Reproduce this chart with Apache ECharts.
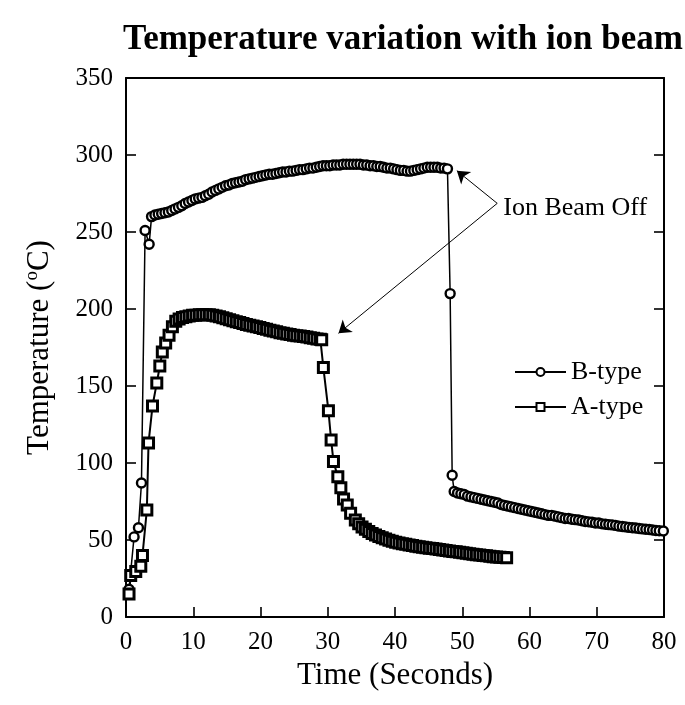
<!DOCTYPE html>
<html>
<head>
<meta charset="utf-8">
<script src="https://cdn.jsdelivr.net/npm/echarts@6/dist/echarts.min.js"></script>
<style>
html,body{margin:0;padding:0;background:#fff;}
#chart{width:685px;height:705px;}
</style>
</head>
<body>
<div id="chart"></div>
<script>
// ---- Data (time in seconds, temperature in °C) ----
const bTypePoints = [
  [0.45,18],[1.2,52],[1.85,58],[2.3,87],[2.84,251],[3.44,242],[3.8,260],
  [4.3,261],[4.8,261.5],[5.3,262],[5.8,262.5],[6.3,263],[6.8,264],[7.3,265],[7.8,266],
  [8.3,267],[8.8,268.5],[9.3,269.5],[9.8,270.5],[10.3,271.5],[10.8,272],[11.3,272.5],[11.8,273.5],
  [12.3,274.5],[12.8,276],[13.3,277],[13.8,278],[14.3,279],[14.8,280],[15.3,280.5],[15.8,281.5],
  [16.3,282],[16.8,282.5],[17.3,283],[17.8,284],[18.3,284.5],[18.8,285],[19.3,285.5],[19.8,286],
  [20.3,286.5],[20.8,287],[21.3,287.5],[21.8,287.5],[22.3,288],[22.8,288.5],[23.3,289],[23.8,289],
  [24.3,289.5],[24.8,289.5],[25.3,290],[25.8,290.5],[26.3,290.5],[26.8,291],[27.3,291.5],[27.8,291.5],
  [28.3,292],[28.8,292.5],[29.3,293],[29.8,293],[30.3,293],[30.8,293.5],[31.3,293.5],[31.8,293.5],
  [32.3,294],[32.8,294],[33.3,294],[33.8,294],[34.3,294],[34.8,294],[35.3,293.5],[35.8,293.5],
  [36.3,293],[36.8,293],[37.3,292.5],[37.8,292.5],[38.3,292],[38.8,291.5],[39.3,291.5],[39.8,291],
  [40.3,290.5],[40.8,290],[41.3,290],[41.8,289.5],[42.3,289.5],[42.8,290],[43.3,290.5],[43.8,291],
  [44.3,291.5],[44.8,292],[45.3,292],[45.8,292],[46.3,292],[46.8,291.5],[47.3,291.5],[47.8,291],
  [48.2,210],[48.5,92],[48.8,81.5],
  [49.3,80.5],[49.8,80],[50.3,79.5],[50.8,78.5],[51.3,78],[51.8,77.5],[52.3,77],[52.8,76.5],
  [53.3,76],[53.8,75.5],[54.3,75],[54.8,74.5],[55.3,74],[55.8,73],[56.3,72.5],[56.8,72],
  [57.3,71.5],[57.8,71],[58.3,70.5],[58.8,70],[59.3,69.5],[59.8,69],[60.3,68.5],[60.8,68],
  [61.3,67.5],[61.8,67],[62.3,66.5],[62.8,66],[63.3,66],[63.8,65.5],[64.3,65],[64.8,64.5],
  [65.3,64],[65.8,64],[66.3,63.5],[66.8,63.2],[67.3,63],[67.8,62.5],[68.3,62],[68.8,61.8],
  [69.3,61.5],[69.8,61],[70.3,61],[70.8,60.5],[71.3,60.2],[71.8,60],[72.3,59.8],[72.8,59.5],
  [73.3,59],[73.8,58.8],[74.3,58.5],[74.8,58.2],[75.3,58],[75.8,57.8],[76.3,57.5],[76.8,57.2],
  [77.3,57],[77.8,56.8],[78.3,56.5],[78.8,56.2],[79.3,56],[79.9,55.8]
];
const aTypePoints = [
  [0.45,15],[0.7,27],[1.45,29.5],[2.2,33],[2.45,40],[3.1,69.5],[3.35,113],[3.94,137],
  [4.58,152],[5.03,163],[5.4,172],[5.9,178],[6.4,183],[6.9,188.5],[7.4,192],
  [7.9,193.5],[8.4,194.5],[8.9,195],[9.4,195.5],[9.9,196],[10.4,196],[10.9,196.2],[11.4,196.3],
  [11.9,196.3],[12.4,196.2],[12.9,196],[13.4,195.5],[13.9,195],[14.4,194.3],[14.9,193.6],[15.4,193],
  [15.9,192.4],[16.4,191.8],[16.9,191.2],[17.4,190.6],[17.9,190],[18.4,189.5],[18.9,189],[19.4,188.5],
  [19.9,188],[20.4,187.3],[20.9,186.8],[21.4,186.2],[21.9,185.7],[22.4,185.2],[22.9,184.6],[23.4,184.2],
  [23.9,183.8],[24.4,183.4],[24.9,183],[25.4,182.7],[25.9,182.4],[26.4,182.1],[26.9,181.8],[27.4,181.4],
  [27.9,181],[28.4,180.6],[28.9,180.3],[29.1,180],
  [29.35,162],[30.1,134],[30.5,115],[30.85,101],[31.5,91],[31.95,84],[32.35,76.6],[32.9,72.7],
  [33.4,67.3],[34.1,63],
  [34.6,60.5],[35.1,58.5],[35.6,57],[36.1,55.5],[36.6,54.3],[37.1,53.2],[37.6,52.3],[38.1,51.4],
  [38.6,50.6],[39.1,49.9],[39.6,49.2],[40.1,48.6],[40.6,48.1],[41.1,47.6],[41.6,47.2],[42.1,46.8],
  [42.6,46.4],[43.1,46],[43.6,45.6],[44.1,45.3],[44.6,45],[45.1,44.7],[45.6,44.4],[46.1,44.1],
  [46.6,43.8],[47.1,43.5],[47.6,43.2],[48.1,42.9],[48.6,42.6],[49.1,42.3],[49.6,42],[50.1,41.7],
  [50.6,41.4],[51.1,41.1],[51.6,40.8],[52.1,40.5],[52.6,40.2],[53.1,40],[53.6,39.7],[54.1,39.5],
  [54.6,39.2],[55.1,39],[55.6,38.8],[56.1,38.6],[56.6,38.4]
];
const seriesNames = ['B-type','A-type'];
const xTicks = {min:0, max:80, interval:10};
const yTicks = {min:0, max:350, interval:50};
const annotationText = 'Ion Beam Off';
const annotationFrom = [55.2, 268.6];
const annotationTargets = [[49.2, 289.8],[31.6, 184.2]];
const annotationLabelAt = [56.1, 265.5];

const FONT = 'Liberation Serif, Times New Roman, serif';
const chart = echarts.init(document.getElementById('chart'), null, {renderer:'canvas'});

const axisLine = {show:true, onZero:false, lineStyle:{color:'#000', width:2}};
const tick = {show:true, inside:true, length:10, lineStyle:{color:'#000', width:1.6}};

chart.setOption({
  animation:false,
  backgroundColor:'#fff',
  title:{
    text:'Temperature variation with ion beam',
    left:118, top:17,
    textStyle:{fontFamily:FONT, fontWeight:'bold', fontSize:35, color:'#000'}
  },
  grid:{left:126, right:21, top:78, bottom:88, containLabel:false},
  legend:{
    orient:'vertical', left:509, top:354,
    itemWidth:51, itemHeight:10, itemGap:9,
    data:seriesNames,
    textStyle:{fontFamily:FONT, fontSize:26, color:'#000'}
  },
  xAxis:[{
    type:'value', min:xTicks.min, max:xTicks.max, interval:xTicks.interval,
    axisLine:axisLine, axisTick:tick, splitLine:{show:false},
    axisLabel:{fontFamily:FONT, fontSize:25, color:'#000', margin:13},
    name:'Time (Seconds)', nameLocation:'middle', nameGap:42,
    nameTextStyle:{fontFamily:FONT, fontSize:31, color:'#000'}
  },{
    type:'value', position:'top', min:xTicks.min, max:xTicks.max, interval:xTicks.interval,
    axisLine:axisLine, axisTick:{show:false}, axisLabel:{show:false}, splitLine:{show:false}
  }],
  yAxis:[{
    type:'value', position:'left', min:yTicks.min, max:yTicks.max, interval:yTicks.interval,
    axisLine:axisLine, axisTick:tick, splitLine:{show:false},
    axisLabel:{fontFamily:FONT, fontSize:25, color:'#000', margin:13},
    name:'{t|Temperature (}{s|o}{t|C)}', nameLocation:'middle', nameGap:70,
    nameTextStyle:{fontFamily:FONT, fontSize:31, color:'#000',
      rich:{
        t:{fontFamily:FONT, fontSize:31, color:'#000'},
        s:{fontFamily:FONT, fontSize:19, color:'#000', padding:[0,0,14,0]}
      }}
  },{
    type:'value', position:'right', min:yTicks.min, max:yTicks.max, interval:yTicks.interval,
    axisLine:axisLine, axisTick:tick, axisLabel:{show:false}, splitLine:{show:false}
  }],
  series:[{
    name:seriesNames[0], type:'line', data:bTypePoints,
    xAxisIndex:0, yAxisIndex:0,
    symbol:'circle', symbolSize:9, showAllSymbol:true,
    lineStyle:{color:'#000', width:1.5},
    itemStyle:{color:'#fff', borderColor:'#000', borderWidth:2.4},
    emphasis:{disabled:true},
    markLine:{
      silent:true, symbol:['none','arrow'], symbolSize:12,
      lineStyle:{color:'#000', width:1, type:'solid'},
      label:{show:false},
      data:annotationTargets.map(t => [{coord:annotationFrom},{coord:t}])
    },
    markPoint:{
      silent:true, symbol:'circle', symbolSize:0,
      data:[{coord:annotationLabelAt, value:annotationText}],
      label:{show:true, position:'right', distance:0, formatter:annotationText,
        fontFamily:FONT, fontSize:26, color:'#000'}
    }
  },{
    name:seriesNames[1], type:'line', data:aTypePoints,
    xAxisIndex:0, yAxisIndex:0,
    symbol:'rect', symbolSize:10, showAllSymbol:true,
    lineStyle:{color:'#000', width:2},
    itemStyle:{color:'#fff', borderColor:'#000', borderWidth:3},
    emphasis:{disabled:true}
  }]
});
</script>
</body>
</html>
